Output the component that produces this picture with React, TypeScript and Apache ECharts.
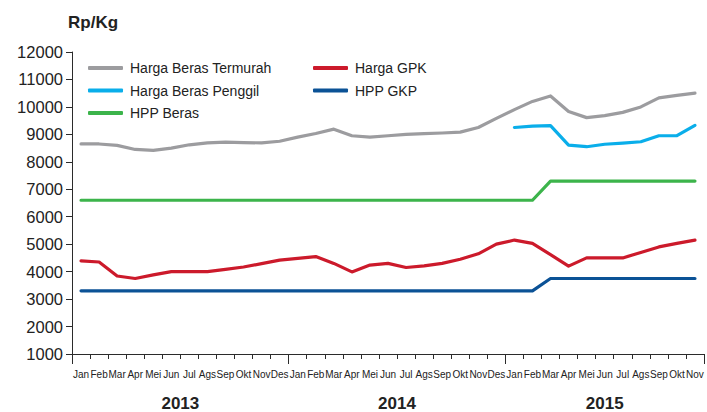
import React, { useEffect, useRef } from "react";
import * as echarts from "echarts";

const months = [
  "Jan", "Feb", "Mar", "Apr", "Mei", "Jun", "Jul", "Ags", "Sep", "Okt", "Nov", "Des",
  "Jan", "Feb", "Mar", "Apr", "Mei", "Jun", "Jul", "Ags", "Sep", "Okt", "Nov", "Des",
  "Jan", "Feb", "Mar", "Apr", "Mei", "Jun", "Jul", "Ags", "Sep", "Okt", "Nov",
];

const years = [
  { label: "2013", mid: 6 },
  { label: "2014", mid: 18 },
  { label: "2015", mid: 29.5 },
];

const hargaBerasTermurah = [
  8650, 8650, 8600, 8450, 8420, 8500, 8620, 8690, 8720, 8700, 8690, 8750,
  8900, 9030, 9190, 8950, 8900, 8950, 9000, 9030, 9050, 9080, 9250, 9580,
  9900, 10200, 10400, 9830, 9610, 9680, 9800, 10000, 10330, 10420, 10500,
];

const hargaGPK = [
  4390, 4350, 3840, 3750, 3880, 4000, 4000, 4000, 4080, 4170, 4290, 4420,
  4480, 4550, 4300, 3990, 4240, 4300, 4150, 4210, 4300, 4450, 4650, 5000,
  5150, 5030, 4620, 4200, 4500, 4500, 4500, 4700, 4900, 5030, 5150,
];

const hargaBerasPenggil = [
  null, null, null, null, null, null, null, null, null, null, null, null,
  null, null, null, null, null, null, null, null, null, null, null, null,
  9250, 9300, 9320, 8610, 8550, 8640, 8680, 8730, 8950, 8950, 9330,
];

const hppGKP = [
  3300, 3300, 3300, 3300, 3300, 3300, 3300, 3300, 3300, 3300, 3300, 3300,
  3300, 3300, 3300, 3300, 3300, 3300, 3300, 3300, 3300, 3300, 3300, 3300,
  3300, 3300, 3750, 3750, 3750, 3750, 3750, 3750, 3750, 3750, 3750,
];

const hppBeras = [
  6600, 6600, 6600, 6600, 6600, 6600, 6600, 6600, 6600, 6600, 6600, 6600,
  6600, 6600, 6600, 6600, 6600, 6600, 6600, 6600, 6600, 6600, 6600, 6600,
  6600, 6600, 7300, 7300, 7300, 7300, 7300, 7300, 7300, 7300, 7300,
];

const yMin = 1000;
const yMax = 12000;
const yStep = 1000;

const FONT = "'Liberation Sans', Arial, sans-serif";
const AXIS = "#2b2b2b";

export default function App() {
  const ref = useRef<HTMLDivElement>(null);

  useEffect(() => {
    document.body.style.margin = "0";
    if (!ref.current) return;
    const chart = echarts.init(ref.current, null, { renderer: "svg" });

    const mkSeries = (name: string, data: (number | null)[], color: string) => ({
      name,
      type: "line",
      data,
      xAxisIndex: 0,
      yAxisIndex: 0,
      symbol: "none",
      showSymbol: false,
      connectNulls: false,
      lineStyle: { color, width: 3.2, cap: "round", join: "round" },
      itemStyle: { color },
      emphasis: { disabled: true },
    });

    const legendCommon = {
      orient: "vertical",
      icon: "roundRect",
      itemWidth: 35,
      itemHeight: 4,
      itemGap: 8.5,
      padding: 0,
      selectedMode: false,
      textStyle: { fontFamily: FONT, fontSize: 14, color: "#222", padding: [0, 0, 0, 2] },
    };

    chart.setOption({
      animation: false,
      backgroundColor: "#fff",
      title: {
        text: "Rp/Kg",
        left: 68,
        top: 14,
        padding: 0,
        textStyle: { fontFamily: FONT, fontSize: 17, fontWeight: "bold", color: "#222" },
      },
      legend: [
        {
          ...legendCommon,
          left: 88,
          top: 61,
          data: ["Harga Beras Termurah", "Harga Beras Penggil", "HPP Beras"],
        },
        {
          ...legendCommon,
          left: 313,
          top: 61,
          data: ["Harga GPK", "HPP GKP"],
        },
      ],
      grid: { left: 72, right: 1, top: 52, bottom: 57, containLabel: false },
      xAxis: [
        {
          type: "category",
          data: months,
          boundaryGap: true,
          axisLine: { show: true, lineStyle: { color: AXIS, width: 1 } },
          axisTick: { show: true, interval: 0, length: 5, lineStyle: { color: AXIS } },
          axisLabel: {
            interval: 0,
            margin: 15,
            fontFamily: FONT,
            fontSize: 10,
            color: "#222",
          },
          splitLine: { show: false },
        },
        {
          type: "value",
          min: 0,
          max: 35,
          interval: 12,
          position: "bottom",
          axisLine: { show: false },
          axisTick: { show: true, length: 10, lineStyle: { color: AXIS } },
          axisLabel: { show: false },
          splitLine: { show: false },
        },
        {
          type: "value",
          min: 0,
          max: 35,
          interval: 0.5,
          position: "bottom",
          axisLine: { show: false },
          axisTick: { show: false },
          axisLabel: {
            show: true,
            margin: 41,
            fontFamily: FONT,
            fontSize: 17,
            fontWeight: "bold",
            color: "#222",
            formatter: (v: number) => {
              const y = years.find((yy) => Math.abs(yy.mid - v) < 1e-6);
              return y ? y.label : "";
            },
          },
          splitLine: { show: false },
        },
      ],
      yAxis: {
        type: "value",
        min: yMin,
        max: yMax,
        interval: yStep,
        axisLine: { show: true, lineStyle: { color: AXIS, width: 1 } },
        axisTick: { show: true, length: 6, lineStyle: { color: AXIS } },
        axisLabel: {
          margin: 9,
          fontFamily: FONT,
          fontSize: 16.5,
          color: "#222",
          formatter: (v: number) => String(v),
        },
        splitLine: { show: false },
      },
      series: [
        mkSeries("Harga Beras Termurah", hargaBerasTermurah, "#9c9c9f"),
        mkSeries("Harga GPK", hargaGPK, "#cc1a2b"),
        mkSeries("Harga Beras Penggil", hargaBerasPenggil, "#0aaeea"),
        mkSeries("HPP GKP", hppGKP, "#0b5296"),
        mkSeries("HPP Beras", hppBeras, "#3cb44b"),
      ],
    });

    return () => chart.dispose();
  }, []);

  return (
    <div
      ref={ref}
      style={{ position: "absolute", left: 0, top: 0, width: 707, height: 412 }}
    />
  );
}
